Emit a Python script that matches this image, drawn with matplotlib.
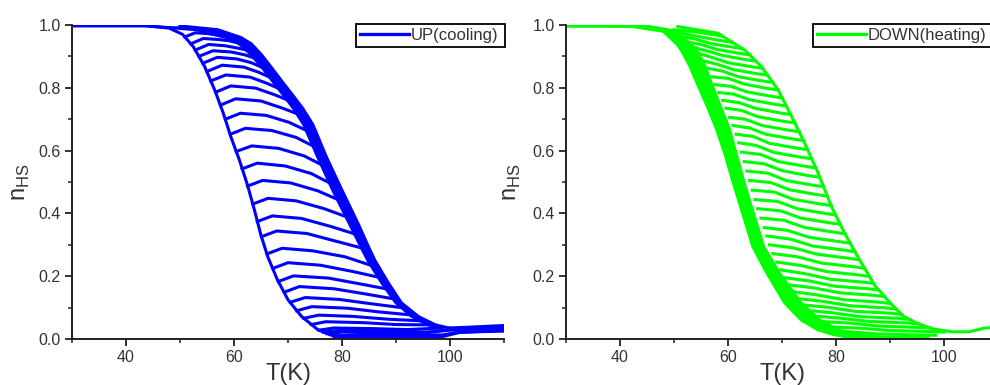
import matplotlib
matplotlib.use("Agg")
import matplotlib.pyplot as plt
from matplotlib.ticker import MultipleLocator

plt.rcParams['font.family'] = ['Liberation Sans', 'DejaVu Sans']

BLUE = '#0000ff'
GREEN = '#00ff00'

# ---------------- UP (cooling) : blue panel ----------------
# left (steep) branch
up_left_T = [30, 44, 48, 50.5, 52.5, 54.5, 56.5, 58, 59.5, 61, 62.5, 63.8, 65, 66.3, 68, 70, 72.5, 75.5, 78, 82]
up_left_n = [0.997, 0.997, 0.99, 0.97, 0.93, 0.87, 0.79, 0.72, 0.64, 0.57, 0.49, 0.41, 0.33, 0.26, 0.19, 0.125, 0.072, 0.03, 0.012, 0.005]
# right branch, thick band where the curves pile up
up_band_n = [0.997, 0.985, 0.96, 0.94, 0.905, 0.863, 0.82, 0.778, 0.735, 0.683, 0.58, 0.47, 0.363, 0.29, 0.25, 0.178, 0.115, 0.071, 0.045, 0.035]
up_band_out = [50.0, 57.0, 61.3, 63.2, 65.1, 67.0, 68.9, 70.8, 72.7, 74.6, 77.1, 80.1, 83.1, 85.0, 86.1, 88.6, 91.0, 94.2, 97.3, 99.8]
up_band_in = [44.0, 53.0, 58.5, 61.0, 63.2, 65.3, 67.2, 69.1, 71.0, 72.9, 75.5, 78.4, 81.5, 83.6, 84.8, 87.4, 90.0, 93.0, 96.0, 98.5]
up_tail_T = [99.8, 104.0, 110.0]
up_tail_n = [0.035, 0.038, 0.043]

up_curves_T = [
    [50.9, 52.8, 55.0, 57.3],
    [52.0, 54.3, 57.0, 59.0, 60.6],
    [52.8, 55.3, 58.3, 60.5, 62.2],
    [53.5, 56.1, 59.5, 62.0, 63.7],
    [54.2, 56.9, 60.5, 63.2, 65.2],
    [55.0, 57.8, 61.8, 64.5, 66.6],
    [55.7, 58.5, 63.0, 66.0, 68.0],
    [56.6, 59.4, 64.0, 67.5, 69.8],
    [57.5, 60.3, 65.0, 69.0, 71.6],
    [58.4, 61.2, 66.0, 70.2, 73.3],
    [59.3, 62.1, 67.0, 71.5, 74.6],
    [60.4, 63.3, 68.3, 73.0, 76.2],
    [61.5, 64.3, 69.5, 74.3, 77.7],
    [62.5, 65.3, 70.5, 75.5, 79.1],
    [63.5, 66.3, 71.5, 76.7, 80.7],
    [64.3, 67.1, 72.5, 78.0, 82.3],
    [65.1, 67.9, 73.5, 79.2, 83.6],
    [66.1, 68.9, 74.5, 80.5, 85.3],
    [67.2, 70.0, 76.0, 82.0, 86.7],
    [68.2, 71.0, 77.5, 83.5, 88.1],
    [69.3, 72.1, 78.5, 84.5, 89.5],
    [70.4, 73.2, 79.5, 85.5, 91.0],
    [71.6, 74.4, 81.0, 87.0, 92.6],
    [72.9, 75.7, 82.0, 88.5, 94.5],
    [74.3, 77.0, 84.0, 90.0, 96.0],
    [75.7, 78.5, 86.0, 92.0, 98.5],
    [77.2, 80.0, 88.0, 95.0, 100.0, 110.0],
    [78.5, 82.0, 90.0, 97.0, 101.0, 110.0],
    [80.0, 86.0, 94.0, 98.0, 102.0, 110.0],
    [76.5, 80.0, 88.0, 96.0, 100.0],
    [79.0, 84.0, 92.0, 98.0],
]
up_curves_n = [
    [0.962, 0.975, 0.973, 0.967],
    [0.940, 0.957, 0.954, 0.950, 0.944],
    [0.920, 0.938, 0.934, 0.927, 0.921],
    [0.900, 0.918, 0.914, 0.905, 0.895],
    [0.878, 0.897, 0.892, 0.880, 0.865],
    [0.852, 0.872, 0.866, 0.850, 0.834],
    [0.822, 0.841, 0.834, 0.815, 0.800],
    [0.786, 0.806, 0.799, 0.778, 0.762],
    [0.745, 0.765, 0.758, 0.735, 0.718],
    [0.700, 0.719, 0.712, 0.690, 0.665],
    [0.652, 0.671, 0.664, 0.642, 0.615],
    [0.597, 0.615, 0.607, 0.583, 0.555],
    [0.542, 0.560, 0.551, 0.527, 0.497],
    [0.487, 0.505, 0.497, 0.472, 0.445],
    [0.430, 0.448, 0.440, 0.415, 0.390],
    [0.374, 0.392, 0.384, 0.358, 0.335],
    [0.326, 0.344, 0.336, 0.310, 0.290],
    [0.271, 0.289, 0.281, 0.262, 0.235],
    [0.225, 0.243, 0.235, 0.215, 0.197],
    [0.183, 0.201, 0.194, 0.175, 0.160],
    [0.149, 0.167, 0.160, 0.143, 0.128],
    [0.117, 0.132, 0.126, 0.112, 0.100],
    [0.090, 0.103, 0.098, 0.086, 0.077],
    [0.066, 0.076, 0.072, 0.063, 0.058],
    [0.046, 0.055, 0.052, 0.046, 0.045],
    [0.028, 0.035, 0.033, 0.030, 0.035],
    [0.017, 0.022, 0.021, 0.020, 0.028, 0.036],
    [0.008, 0.010, 0.009, 0.008, 0.020, 0.028],
    [0.002, 0.003, 0.003, 0.005, 0.022, 0.025],
    [0.022, 0.028, 0.026, 0.022, 0.030],
    [0.010, 0.015, 0.014, 0.013],
]

# ---------------- DOWN (heating) : green panel ----------------
# left branch, thick band where the curves pile up
dn_band_n = [0.997, 0.996, 0.98, 0.94, 0.916, 0.867, 0.81, 0.74, 0.672, 0.591, 0.485, 0.379, 0.294, 0.21, 0.115, 0.06, 0.029, 0.013, 0.004]
dn_band_out = [30, 42, 48.0, 50.5, 51.5, 53.0, 54.4, 56.2, 57.8, 59.4, 61.2, 63.1, 64.6, 67.2, 70.5, 73.6, 76.7, 79.8, 83]
dn_band_in = [30, 45, 50.5, 53.0, 54.3, 55.8, 57.0, 58.6, 60.2, 61.5, 63.2, 65.1, 66.6, 69.5, 73.5, 77.0, 80.5, 84.0, 88]
# right branch
dn_right_T = [50.7, 58.1, 63.1, 66.2, 69.3, 71.8, 74.2, 76.7, 79.2, 81.6, 84.1, 87.2, 90.3, 92.5, 95.3, 98.0, 101.5, 104.6, 107.3, 110.0]
dn_right_n = [0.995, 0.974, 0.92, 0.867, 0.793, 0.708, 0.624, 0.528, 0.42, 0.337, 0.26, 0.17, 0.11, 0.072, 0.048, 0.032, 0.023, 0.023, 0.034, 0.038]

dn_curves_T = [
    [58.9, 57.0, 54.0, 50.0],
    [60.8, 58.8, 55.5, 52.5, 51.0],
    [62.6, 60.6, 57.0, 54.0, 52.0],
    [64.0, 62.0, 58.0, 55.0, 53.0],
    [65.1, 63.1, 59.0, 56.0, 53.8],
    [66.4, 64.4, 60.0, 57.0, 54.8],
    [67.3, 65.3, 61.0, 58.0, 55.5],
    [68.3, 66.3, 62.0, 59.0, 56.3],
    [69.3, 67.3, 63.0, 60.0, 57.0],
    [70.0, 68.0, 63.5, 60.5, 57.6],
    [70.8, 68.8, 64.0, 61.0, 58.3],
    [71.6, 69.6, 65.0, 62.0, 59.0],
    [72.4, 70.4, 65.5, 62.5, 59.6],
    [73.2, 71.2, 66.3, 63.2, 60.3],
    [74.0, 72.0, 67.0, 64.0, 60.9],
    [74.7, 72.7, 67.7, 64.7, 61.5],
    [75.5, 73.5, 68.5, 65.3, 62.0],
    [76.3, 74.3, 69.3, 66.0, 62.5],
    [77.0, 75.0, 70.0, 66.7, 63.0],
    [77.7, 75.7, 70.7, 67.4, 63.5],
    [78.4, 76.4, 71.4, 68.0, 64.0],
    [79.1, 77.1, 72.0, 68.6, 64.5],
    [79.9, 77.9, 72.8, 69.2, 65.0],
    [80.8, 78.8, 73.5, 69.8, 65.5],
    [81.7, 79.7, 74.2, 70.4, 66.1],
    [82.6, 80.6, 75.0, 71.0, 66.7],
    [83.5, 81.5, 75.7, 71.6, 67.2],
    [84.4, 82.4, 76.5, 72.2, 67.7],
    [85.3, 83.3, 77.3, 72.8, 68.3],
    [86.2, 84.2, 78.2, 73.5, 69.0],
    [87.0, 85.0, 79.0, 74.3, 69.8],
    [87.9, 85.9, 79.8, 75.0, 70.6],
    [89.0, 87.0, 80.7, 75.8, 71.5],
    [90.1, 88.1, 81.5, 76.6, 72.4],
    [91.2, 89.2, 82.5, 77.5, 73.3],
    [92.2, 90.2, 83.5, 78.5, 74.3],
    [93.7, 91.7, 84.5, 79.5, 75.5],
    [95.3, 93.3, 86.0, 81.0, 76.8],
    [97.5, 95.0, 88.0, 83.0, 78.0],
    [100.0, 97.0, 90.0, 85.0, 80.0],
    [98.5, 95.0, 88.0, 83.0, 81.5],
    [97.0, 92.0, 86.0, 84.0],
]
dn_curves_n = [
    [0.965, 0.970, 0.978, 0.985],
    [0.945, 0.950, 0.960, 0.970, 0.977],
    [0.925, 0.930, 0.940, 0.955, 0.962],
    [0.905, 0.910, 0.922, 0.938, 0.944],
    [0.885, 0.890, 0.903, 0.918, 0.928],
    [0.862, 0.867, 0.880, 0.897, 0.908],
    [0.840, 0.845, 0.858, 0.875, 0.885],
    [0.817, 0.822, 0.835, 0.853, 0.862],
    [0.793, 0.798, 0.812, 0.830, 0.835],
    [0.768, 0.773, 0.787, 0.805, 0.810],
    [0.742, 0.747, 0.762, 0.780, 0.785],
    [0.715, 0.720, 0.735, 0.753, 0.760],
    [0.688, 0.693, 0.708, 0.728, 0.735],
    [0.660, 0.665, 0.680, 0.700, 0.706],
    [0.632, 0.637, 0.652, 0.672, 0.680],
    [0.603, 0.608, 0.623, 0.645, 0.652],
    [0.574, 0.579, 0.594, 0.616, 0.625],
    [0.545, 0.550, 0.565, 0.588, 0.595],
    [0.515, 0.520, 0.536, 0.558, 0.565],
    [0.485, 0.490, 0.505, 0.528, 0.535],
    [0.455, 0.460, 0.475, 0.498, 0.505],
    [0.425, 0.430, 0.445, 0.468, 0.474],
    [0.395, 0.400, 0.415, 0.438, 0.444],
    [0.365, 0.370, 0.385, 0.408, 0.415],
    [0.335, 0.340, 0.355, 0.378, 0.385],
    [0.305, 0.310, 0.324, 0.346, 0.355],
    [0.278, 0.283, 0.296, 0.318, 0.328],
    [0.252, 0.257, 0.270, 0.290, 0.300],
    [0.225, 0.230, 0.242, 0.262, 0.272],
    [0.199, 0.204, 0.215, 0.234, 0.245],
    [0.177, 0.181, 0.190, 0.208, 0.220],
    [0.156, 0.160, 0.168, 0.185, 0.195],
    [0.135, 0.139, 0.147, 0.163, 0.172],
    [0.113, 0.117, 0.125, 0.140, 0.150],
    [0.095, 0.099, 0.106, 0.120, 0.128],
    [0.078, 0.082, 0.088, 0.101, 0.108],
    [0.062, 0.066, 0.071, 0.083, 0.090],
    [0.048, 0.051, 0.056, 0.066, 0.072],
    [0.035, 0.037, 0.041, 0.050, 0.055],
    [0.022, 0.024, 0.027, 0.034, 0.038],
    [0.012, 0.013, 0.016, 0.022, 0.025],
    [0.004, 0.005, 0.008, 0.012],
]

x_ticks = [40, 60, 80, 100]
y_ticks = [0.0, 0.2, 0.4, 0.6, 0.8, 1.0]

LW = 2.2
TXT = '#333333'


def style_axes(ax, ylabel_x):
    ax.set_xlim(30, 110)
    ax.set_ylim(0, 1.0)
    ax.set_xticks(x_ticks)
    ax.set_yticks(y_ticks)
    ax.set_yticklabels(['%.1f' % v for v in y_ticks])
    ax.xaxis.set_minor_locator(MultipleLocator(10))
    ax.yaxis.set_minor_locator(MultipleLocator(0.1))
    for s in ['top', 'right']:
        ax.spines[s].set_visible(False)
    for s in ['left', 'bottom']:
        ax.spines[s].set_linewidth(1.4)
        ax.spines[s].set_color('#222222')
    ax.tick_params(which='major', direction='out', length=5, width=1.3,
                   labelsize=11.5, labelcolor=TXT, color='#222222', pad=3)
    ax.tick_params(which='minor', direction='out', length=3, width=1.1, color='#222222')
    ax.set_xlabel('T(K)', fontsize=17, color=TXT)
    ax.set_ylabel('n$_\\mathregular{HS}$', fontsize=17, color=TXT)
    ax.xaxis.set_label_coords(0.5, -0.075)
    ax.yaxis.set_label_coords(ylabel_x, 0.5)


fig = plt.figure(figsize=(9.9, 3.85), dpi=100)
ax1 = fig.add_axes([72 / 990, 46 / 385, 432 / 990, 314 / 385])
ax2 = fig.add_axes([566 / 990, 46 / 385, 432 / 990, 314 / 385])

# blue panel
ax1.fill_betweenx(up_band_n, up_band_in, up_band_out, color=BLUE, lw=0)
ax1.plot(up_band_out, up_band_n, color=BLUE, lw=LW)
ax1.plot(up_band_in, up_band_n, color=BLUE, lw=LW)
ax1.plot(up_tail_T, up_tail_n, color=BLUE, lw=LW)
for T, n in zip(up_curves_T, up_curves_n):
    ax1.plot(T, n, color=BLUE, lw=LW)
ax1.plot(up_left_T, up_left_n, color=BLUE, lw=LW, label='UP(cooling)')

# green panel
ax2.fill_betweenx(dn_band_n, dn_band_out, dn_band_in, color=GREEN, lw=0)
ax2.plot(dn_band_out, dn_band_n, color=GREEN, lw=LW)
ax2.plot(dn_band_in, dn_band_n, color=GREEN, lw=LW)
for T, n in zip(dn_curves_T, dn_curves_n):
    ax2.plot(T, n, color=GREEN, lw=LW)
ax2.plot(dn_right_T, dn_right_n, color=GREEN, lw=LW, label='DOWN(heating)')

style_axes(ax1, -0.093)
style_axes(ax2, -0.10)

leg_kw = dict(loc='upper left', mode='expand', fontsize=12, frameon=True, fancybox=False,
              framealpha=1, edgecolor='black', borderpad=0.25, borderaxespad=0,
              handlelength=2.9, handletextpad=0.15, labelcolor=TXT)
l1 = ax1.legend(bbox_to_anchor=(356 / 990, 1 - 52 / 385, 149 / 990, 28 / 385),
                bbox_transform=fig.transFigure, **leg_kw)
l2 = ax2.legend(bbox_to_anchor=(813 / 990, 1 - 52 / 385, 190 / 990, 28 / 385),
                bbox_transform=fig.transFigure, **leg_kw)
for lg in (l1, l2):
    lg.get_frame().set_linewidth(1.3)
    for h in lg.legend_handles:
        h.set_linewidth(2.4)

fig.savefig('out.png', dpi=100)
